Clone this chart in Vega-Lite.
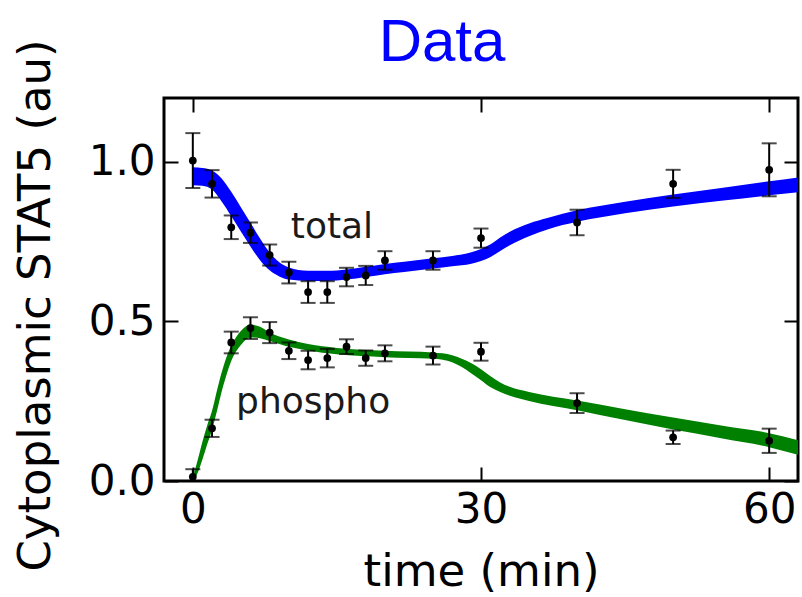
{
  "$schema": "https://vega.github.io/schema/vega-lite/v6.json",
  "width": 634,
  "height": 383,
  "autosize": {"type": "none"},
  "padding": {"left": 164, "top": 98, "right": 4, "bottom": 116},
  "background": "white",
  "title": {"text": "Data", "color": "#0000ff", "font": "Liberation Sans", "fontSize": 60, "fontWeight": "normal", "anchor": "middle", "dx": -39, "dy": 56, "baseline": "alphabetic", "offset": -26},
  "config": {
    "view": {"stroke": "black", "strokeWidth": 3},
    "axis": {"grid": false, "domain": false, "labelFont": "DejaVu Sans", "titleFont": "DejaVu Sans", "labelColor": "black", "titleColor": "black", "tickColor": "black", "tickWidth": 2, "labelFontSize": 42, "titleFontSize": 45, "titleFontWeight": "normal"}
  },
  "datasets": {
    "band": [
      {"s": "total", "t": 0, "lo": 0.927, "hi": 0.983},
      {"s": "total", "t": 1, "lo": 0.925, "hi": 0.981},
      {"s": "total", "t": 2, "lo": 0.913, "hi": 0.973},
      {"s": "total", "t": 3, "lo": 0.876, "hi": 0.948},
      {"s": "total", "t": 4, "lo": 0.83, "hi": 0.906},
      {"s": "total", "t": 5, "lo": 0.782, "hi": 0.858},
      {"s": "total", "t": 6, "lo": 0.735, "hi": 0.809},
      {"s": "total", "t": 7, "lo": 0.692, "hi": 0.76},
      {"s": "total", "t": 8, "lo": 0.66, "hi": 0.716},
      {"s": "total", "t": 9, "lo": 0.641, "hi": 0.685},
      {"s": "total", "t": 10, "lo": 0.631, "hi": 0.669},
      {"s": "total", "t": 12, "lo": 0.627, "hi": 0.659},
      {"s": "total", "t": 14, "lo": 0.627, "hi": 0.659},
      {"s": "total", "t": 16, "lo": 0.631, "hi": 0.663},
      {"s": "total", "t": 18, "lo": 0.639, "hi": 0.671},
      {"s": "total", "t": 20, "lo": 0.648, "hi": 0.68},
      {"s": "total", "t": 22, "lo": 0.655, "hi": 0.687},
      {"s": "total", "t": 25, "lo": 0.666, "hi": 0.698},
      {"s": "total", "t": 27, "lo": 0.673, "hi": 0.705},
      {"s": "total", "t": 29, "lo": 0.681, "hi": 0.717},
      {"s": "total", "t": 30, "lo": 0.689, "hi": 0.727},
      {"s": "total", "t": 31, "lo": 0.702, "hi": 0.742},
      {"s": "total", "t": 32, "lo": 0.721, "hi": 0.763},
      {"s": "total", "t": 33, "lo": 0.739, "hi": 0.781},
      {"s": "total", "t": 35, "lo": 0.767, "hi": 0.807},
      {"s": "total", "t": 37, "lo": 0.789, "hi": 0.825},
      {"s": "total", "t": 40, "lo": 0.812, "hi": 0.848},
      {"s": "total", "t": 45, "lo": 0.839, "hi": 0.875},
      {"s": "total", "t": 50, "lo": 0.86, "hi": 0.898},
      {"s": "total", "t": 55, "lo": 0.878, "hi": 0.918},
      {"s": "total", "t": 60, "lo": 0.895, "hi": 0.939},
      {"s": "total", "t": 63, "lo": 0.905, "hi": 0.951},
      {"s": "phospho", "t": 0, "lo": 0.0, "hi": 0.01},
      {"s": "phospho", "t": 0.5, "lo": 0.025, "hi": 0.065},
      {"s": "phospho", "t": 1, "lo": 0.067, "hi": 0.123},
      {"s": "phospho", "t": 1.5, "lo": 0.115, "hi": 0.175},
      {"s": "phospho", "t": 2, "lo": 0.16, "hi": 0.22},
      {"s": "phospho", "t": 2.5, "lo": 0.218, "hi": 0.282},
      {"s": "phospho", "t": 3, "lo": 0.28, "hi": 0.34},
      {"s": "phospho", "t": 3.5, "lo": 0.332, "hi": 0.388},
      {"s": "phospho", "t": 4, "lo": 0.376, "hi": 0.424},
      {"s": "phospho", "t": 5, "lo": 0.426, "hi": 0.47},
      {"s": "phospho", "t": 6, "lo": 0.45, "hi": 0.49},
      {"s": "phospho", "t": 7, "lo": 0.447, "hi": 0.483},
      {"s": "phospho", "t": 8, "lo": 0.439, "hi": 0.465},
      {"s": "phospho", "t": 10, "lo": 0.421, "hi": 0.443},
      {"s": "phospho", "t": 12, "lo": 0.409, "hi": 0.429},
      {"s": "phospho", "t": 15, "lo": 0.397, "hi": 0.417},
      {"s": "phospho", "t": 20, "lo": 0.388, "hi": 0.408},
      {"s": "phospho", "t": 25, "lo": 0.383, "hi": 0.403},
      {"s": "phospho", "t": 26, "lo": 0.38, "hi": 0.4},
      {"s": "phospho", "t": 27, "lo": 0.372, "hi": 0.394},
      {"s": "phospho", "t": 28, "lo": 0.357, "hi": 0.383},
      {"s": "phospho", "t": 29, "lo": 0.337, "hi": 0.369},
      {"s": "phospho", "t": 30, "lo": 0.316, "hi": 0.35},
      {"s": "phospho", "t": 31, "lo": 0.294, "hi": 0.328},
      {"s": "phospho", "t": 32, "lo": 0.279, "hi": 0.309},
      {"s": "phospho", "t": 33, "lo": 0.267, "hi": 0.295},
      {"s": "phospho", "t": 35, "lo": 0.251, "hi": 0.279},
      {"s": "phospho", "t": 40, "lo": 0.222, "hi": 0.252},
      {"s": "phospho", "t": 45, "lo": 0.191, "hi": 0.225},
      {"s": "phospho", "t": 50, "lo": 0.161, "hi": 0.199},
      {"s": "phospho", "t": 55, "lo": 0.134, "hi": 0.174},
      {"s": "phospho", "t": 60, "lo": 0.106, "hi": 0.15},
      {"s": "phospho", "t": 63, "lo": 0.082, "hi": 0.128}
    ],
    "pts": [
      {"s": "total", "t": 0, "v": 1.004, "lo": 0.918, "hi": 1.09},
      {"s": "total", "t": 2, "v": 0.931, "lo": 0.888, "hi": 0.974},
      {"s": "total", "t": 4, "v": 0.795, "lo": 0.758, "hi": 0.832},
      {"s": "total", "t": 6, "v": 0.778, "lo": 0.746, "hi": 0.81},
      {"s": "total", "t": 8, "v": 0.708, "lo": 0.675, "hi": 0.741},
      {"s": "total", "t": 10, "v": 0.653, "lo": 0.619, "hi": 0.687},
      {"s": "total", "t": 12, "v": 0.592, "lo": 0.558, "hi": 0.626},
      {"s": "total", "t": 14, "v": 0.592, "lo": 0.558, "hi": 0.626},
      {"s": "total", "t": 16, "v": 0.639, "lo": 0.61, "hi": 0.668},
      {"s": "total", "t": 18, "v": 0.644, "lo": 0.614, "hi": 0.674},
      {"s": "total", "t": 20, "v": 0.691, "lo": 0.662, "hi": 0.72},
      {"s": "total", "t": 25, "v": 0.691, "lo": 0.662, "hi": 0.72},
      {"s": "total", "t": 30, "v": 0.761, "lo": 0.731, "hi": 0.791},
      {"s": "total", "t": 40, "v": 0.81, "lo": 0.77, "hi": 0.85},
      {"s": "total", "t": 50, "v": 0.931, "lo": 0.887, "hi": 0.975},
      {"s": "total", "t": 60, "v": 0.975, "lo": 0.892, "hi": 1.058},
      {"s": "phospho", "t": 0, "v": 0.013, "lo": 0.0, "hi": 0.037},
      {"s": "phospho", "t": 2, "v": 0.165, "lo": 0.138, "hi": 0.192},
      {"s": "phospho", "t": 4, "v": 0.434, "lo": 0.4, "hi": 0.468},
      {"s": "phospho", "t": 6, "v": 0.479, "lo": 0.445, "hi": 0.513},
      {"s": "phospho", "t": 8, "v": 0.465, "lo": 0.432, "hi": 0.498},
      {"s": "phospho", "t": 10, "v": 0.408, "lo": 0.382, "hi": 0.434},
      {"s": "phospho", "t": 12, "v": 0.379, "lo": 0.35, "hi": 0.408},
      {"s": "phospho", "t": 14, "v": 0.385, "lo": 0.356, "hi": 0.414},
      {"s": "phospho", "t": 16, "v": 0.421, "lo": 0.398, "hi": 0.444},
      {"s": "phospho", "t": 18, "v": 0.385, "lo": 0.361, "hi": 0.409},
      {"s": "phospho", "t": 20, "v": 0.4, "lo": 0.375, "hi": 0.425},
      {"s": "phospho", "t": 25, "v": 0.393, "lo": 0.365, "hi": 0.421},
      {"s": "phospho", "t": 30, "v": 0.405, "lo": 0.377, "hi": 0.433},
      {"s": "phospho", "t": 40, "v": 0.244, "lo": 0.213, "hi": 0.275},
      {"s": "phospho", "t": 50, "v": 0.137, "lo": 0.116, "hi": 0.158},
      {"s": "phospho", "t": 60, "v": 0.126, "lo": 0.088, "hi": 0.164}
    ],
    "labels": [
      {"t": 10.2, "v": 0.762, "label": "total"},
      {"t": 4.5, "v": 0.213, "label": "phospho"}
    ]
  },
  "layer": [
    {
      "data": {"name": "band"},
      "mark": {"type": "area", "interpolate": "monotone", "clip": true},
      "encoding": {
        "x": {"field": "t", "type": "quantitative", "scale": {"domain": [-3, 63], "nice": false, "zero": false},
          "axis": {"values": [0, 30, 60], "tickSize": -14, "labelPadding": 22, "title": "time (min)", "titleY": 104, "titleBaseline": "alphabetic"}},
        "y": {"field": "lo", "type": "quantitative", "scale": {"domain": [0, 1.2], "nice": false},
          "axis": {"values": [0, 0.5, 1], "format": ".1f", "tickSize": -14, "labelPadding": 23, "title": "Cytoplasmic STAT5 (au)", "titleX": -115, "titleY": 207, "titleBaseline": "alphabetic", "titleAngle": -90}},
        "y2": {"field": "hi"},
        "color": {"field": "s", "type": "nominal", "scale": {"domain": ["total", "phospho"], "range": ["#0000ff", "#008000"]}, "legend": null}
      }
    },
    {
      "data": {"name": "pts"},
      "mark": {"type": "rule", "color": "black", "strokeWidth": 2, "clip": true},
      "encoding": {
        "x": {"field": "t", "type": "quantitative", "scale": {"domain": [-3, 63], "nice": false, "zero": false}, "axis": null},
        "y": {"field": "lo", "type": "quantitative", "scale": {"domain": [0, 1.2], "nice": false}, "axis": null},
        "y2": {"field": "hi"}
      }
    },
    {
      "data": {"name": "pts"},
      "mark": {"type": "tick", "orient": "horizontal", "color": "black", "size": 15, "thickness": 2},
      "encoding": {
        "x": {"field": "t", "type": "quantitative", "scale": {"domain": [-3, 63], "nice": false, "zero": false}, "axis": null},
        "y": {"field": "lo", "type": "quantitative", "scale": {"domain": [0, 1.2], "nice": false}, "axis": null}
      }
    },
    {
      "data": {"name": "pts"},
      "mark": {"type": "tick", "orient": "horizontal", "color": "black", "size": 15, "thickness": 2},
      "encoding": {
        "x": {"field": "t", "type": "quantitative", "scale": {"domain": [-3, 63], "nice": false, "zero": false}, "axis": null},
        "y": {"field": "hi", "type": "quantitative", "scale": {"domain": [0, 1.2], "nice": false}, "axis": null}
      }
    },
    {
      "data": {"name": "pts"},
      "mark": {"type": "circle", "color": "black", "size": 60, "opacity": 1},
      "encoding": {
        "x": {"field": "t", "type": "quantitative", "scale": {"domain": [-3, 63], "nice": false, "zero": false}, "axis": null},
        "y": {"field": "v", "type": "quantitative", "scale": {"domain": [0, 1.2], "nice": false}, "axis": null}
      }
    },
    {
      "data": {"name": "labels"},
      "mark": {"type": "text", "align": "left", "baseline": "alphabetic", "fontSize": 36, "font": "DejaVu Sans", "color": "#1a1a1a"},
      "encoding": {
        "x": {"field": "t", "type": "quantitative", "scale": {"domain": [-3, 63], "nice": false, "zero": false}, "axis": null},
        "y": {"field": "v", "type": "quantitative", "scale": {"domain": [0, 1.2], "nice": false}, "axis": null},
        "text": {"field": "label", "type": "nominal"}
      }
    },
    {
      "data": {"name": "pts"},
      "mark": {"type": "point", "opacity": 0},
      "encoding": {
        "x": {"field": "t", "type": "quantitative", "scale": {"domain": [-3, 63], "nice": false, "zero": false},
          "axis": {"orient": "top", "values": [0, 30, 60], "tickSize": -14, "labels": false, "title": null}},
        "y": {"field": "v", "type": "quantitative", "scale": {"domain": [0, 1.2], "nice": false},
          "axis": {"orient": "right", "values": [0, 0.5, 1], "tickSize": -14, "labels": false, "title": null}}
      }
    }
  ],
  "resolve": {"axis": {"x": "independent", "y": "independent"}}
}
